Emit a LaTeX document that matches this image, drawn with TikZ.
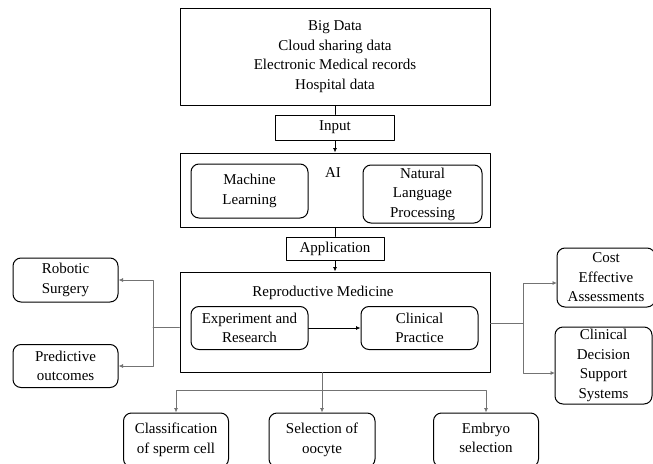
\documentclass[tikz,border=0pt]{standalone}
\usepackage{fontspec}
\setmainfont{Liberation Serif}
\usetikzlibrary{arrows.meta}
\colorlet{link_gray}{black!55}

\begin{document}
\begin{tikzpicture}[x=1pt,y=-1pt,line cap=round,line join=round,
  font=\fontsize{15}{19.5}\selectfont,
  sqbox/.style={draw,line width=1pt,inner sep=0pt,align=center},
  rbox/.style={draw,line width=1pt,rounded corners=8pt,inner sep=0pt,align=center},
  tip/.style={-{Latex[length=4.5pt,width=4pt]}},
  link/.style={draw=link_gray,line width=0.8pt}]

\useasboundingbox (0,0) rectangle (653,463);

% Define the split points of the connectors
\coordinate (lsplit) at (153,327);
\coordinate (rsplit) at (523,323);
\coordinate (bsplit) at (322,390);
\coordinate (costin) at (557,283);
\coordinate (cdssin) at (555,373);

%-----------------------------------------------
% main column
\node[sqbox,minimum width=310pt,minimum height=97pt] (data) at (335,56.5)
  {Big Data\\Cloud sharing data\\Electronic Medical records\\Hospital data};
\node[sqbox,minimum width=119pt,minimum height=25pt] (input) at (335,127.5) {Input};

\node[sqbox,minimum width=310pt,minimum height=74pt] (ai) at (335,190) {};
\node (ailabel) at (333,173) {AI};
\node[rbox,minimum width=117pt,minimum height=54pt] (ml) at (249.5,191) {Machine\\Learning};
\node[rbox,minimum width=119pt,minimum height=58pt] (nlp) at (422.5,194) {Natural\\Language\\Processing};

\node[sqbox,minimum width=98pt,minimum height=23pt] (app) at (335,248.5) {Application};

\node[sqbox,minimum width=310pt,minimum height=100pt] (repro) at (335,322) {};
\node (reprolabel) at (323,293) {Reproductive Medicine};
\node[rbox,minimum width=117pt,minimum height=43pt] (exp) at (249.5,328) {Experiment and\\Research};
\node[rbox,minimum width=117pt,minimum height=43pt] (clin) at (419.5,328) {Clinical\\Practice};

%-----------------------------------------------
% side and bottom boxes
\node[rbox,minimum width=105pt,minimum height=44pt] (robot) at (65.5,280) {Robotic\\Surgery};
\node[rbox,minimum width=105pt,minimum height=43pt] (pred) at (65.5,366) {Predictive\\outcomes};
\node[rbox,minimum width=98pt,minimum height=59pt] (cost) at (606,277.5) {Cost\\Effective\\Assessments};
\node[rbox,minimum width=97pt,minimum height=77pt] (cdss) at (603.5,365.5) {Clinical\\Decision\\Support\\Systems};

\node[rbox,minimum width=105pt,minimum height=54pt,text depth=4pt] (cls) at (176,440) {Classification\\of sperm cell};
\node[rbox,minimum width=106pt,minimum height=54pt,text depth=4pt] (sel) at (322,440) {Selection of\\oocyte};
\node[rbox,minimum width=105pt,minimum height=54pt,text depth=4pt] (emb) at (486,440) {Embryo\\selection};

%-----------------------------------------------
% connectors
\draw[line width=0.8pt] (data.south) -- (input.north);
\draw[line width=0.8pt,tip] (input.south) -- (ai.north);
\draw[line width=0.8pt] (ai.south) -- (app.north);
\draw[line width=0.8pt,tip] (app.south) -- (repro.north);
\draw[line width=0.8pt,tip] (exp.east) -- (clin.west);

\draw[link] (lsplit -| repro.west) -- (lsplit);
\draw[link,tip] (lsplit) |- (robot.east);
\draw[link,tip] (lsplit) |- (pred.east);

\draw[link] (rsplit -| repro.east) -- (rsplit);
\draw[link,tip] (rsplit) |- (costin);
\draw[link,tip] (rsplit) |- (cdssin);

\draw[link] (bsplit |- repro.south) -- (bsplit);
\draw[link,tip] (bsplit) -- (sel.north);
\draw[link,tip] (bsplit) -| (cls.north);
\draw[link,tip] (bsplit) -| (emb.north);

\end{tikzpicture}
\end{document}
